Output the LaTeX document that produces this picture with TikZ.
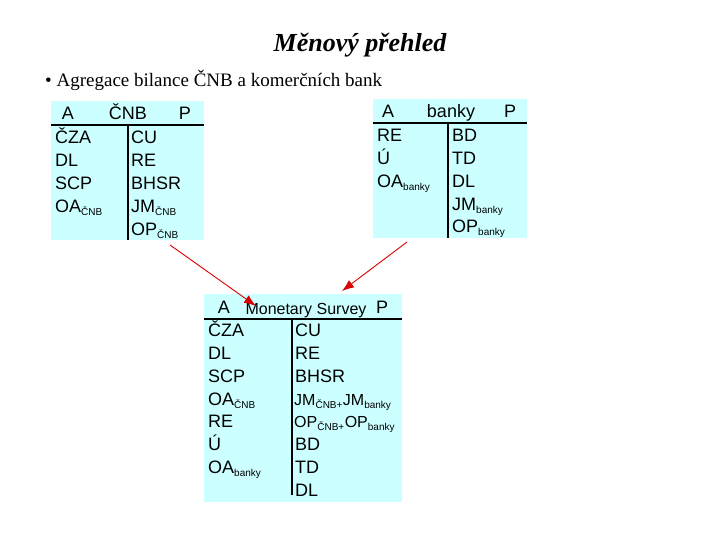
\documentclass[tikz,border=0pt]{standalone}
\usepackage{fontspec}
\usetikzlibrary{arrows.meta}
\setmainfont{Liberation Serif}
\newfontfamily\sans{Liberation Sans}
\definecolor{tblfill}{RGB}{204,255,255}
\newcommand{\subx}[1]{\textsubscript{\fontsize{10}{10}\selectfont #1}}
\begin{document}
\begin{tikzpicture}[x=1pt,y=-1pt,
  rule/.style={line width=1.8pt,black},
  t/.style={font=\sans\fontsize{18}{18}\selectfont,anchor=base west,inner sep=0pt,yshift=-6.5pt},
  h/.style={font=\sans\fontsize{18}{18}\selectfont,inner sep=0pt,anchor=base,yshift=-6.5pt},
  arr/.style={red!85!black,line width=0.9pt,-{Latex[length=12pt,width=9pt]}}]
\useasboundingbox (0,0) rectangle (720,540);
\node[font=\fontsize{26}{26}\selectfont\bfseries\itshape] (title) at (360,45) {Měnový přehled};
\node[font=\fontsize{19}{19}\selectfont,anchor=west,inner sep=0pt] (bul) at (45,80) {• Agregace bilance ČNB a komerčních bank};
% table 1
\fill[tblfill] (51,101) rectangle (204,240);
\draw[rule] (51,125) -- (204,125);
\draw[rule] (128,125) -- (128,240);
\node[h] (a1) at (68,113) {A};
\node[h] (n1) at (128,113) {ČNB};
\node[h] (p1) at (185,113) {P};
\node[t] (l11) at (55,137) {ČZA};
\node[t] (l12) at (55,160) {DL};
\node[t] (l13) at (55,183) {SCP};
\node[t] (l14) at (55,206) {OA\subx{ČNB}};
\node[t] (r11) at (131,137) {CU};
\node[t] (r12) at (131,160) {RE};
\node[t] (r13) at (131,183) {BHSR};
\node[t] (r14) at (131,206) {JM\subx{ČNB}};
\node[t] (r15) at (131,229) {OP\subx{ČNB}};
% table 2
\fill[tblfill] (373,99) rectangle (527,238);
\draw[rule] (373,123) -- (527,123);
\draw[rule] (448,123) -- (448,238);
\node[h] (a2) at (388,111) {A};
\node[h] (n2) at (451,111) {banky};
\node[h] (p2) at (510,111) {P};
\node[t] (l21) at (377,135) {RE};
\node[t] (l22) at (377,158) {Ú};
\node[t] (l23) at (377,181) {OA\subx{banky}};
\node[t] (r21) at (452,135) {BD};
\node[t] (r22) at (452,158) {TD};
\node[t] (r23) at (452,181) {DL};
\node[t] (r24) at (452,204) {JM\subx{banky}};
\node[t] (r25) at (452,226) {OP\subx{banky}};
% table 3
\fill[tblfill] (204,294) rectangle (402,502);
\draw[rule] (204,319) -- (402,319);
\draw[rule] (292,319) -- (292,495);
\node[h] (a3) at (224,307) {A};
\node[h,font=\sans\fontsize{16}{16}\selectfont] (n3) at (306,308) {Monetary Survey};
\node[h] (p3) at (382,307) {P};
\node[t] (l31) at (208,330) {ČZA};
\node[t] (l32) at (208,353) {DL};
\node[t] (l33) at (208,376) {SCP};
\node[t] (l34) at (208,399) {OA\subx{ČNB}};
\node[t] (l35) at (208,421) {RE};
\node[t] (l36) at (208,444) {Ú};
\node[t] (l37) at (208,467) {OA\subx{banky}};
\node[t] (r31) at (295,330) {CU};
\node[t] (r32) at (295,353) {RE};
\node[t] (r33) at (295,376) {BHSR};
\node[t,font=\sans\fontsize{16}{16}\selectfont] (r34) at (294,399) {JM\subx{ČNB+}JM\subx{banky}};
\node[t,font=\sans\fontsize{16}{16}\selectfont] (r35) at (294,421) {OP\subx{ČNB+}OP\subx{banky}};
\node[t] (r36) at (295,444) {BD};
\node[t] (r37) at (295,467) {TD};
\node[t] (r38) at (295,490) {DL};
\coordinate (s1) at (170,245);
\coordinate (e1) at (256,306);
\coordinate (s2) at (407,242);
\coordinate (e2) at (342,291);
\draw[arr] (s1) -- (e1);
\draw[arr] (s2) -- (e2);
\end{tikzpicture}
\end{document}
